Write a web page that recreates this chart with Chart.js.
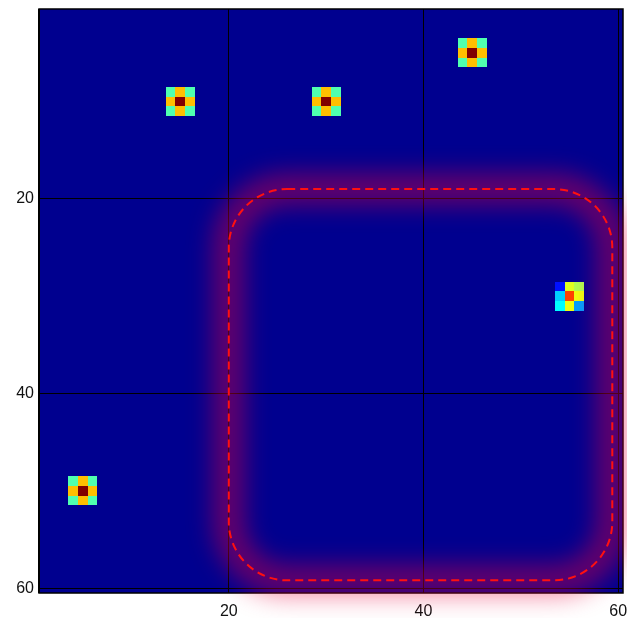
<!DOCTYPE html>
<html>
<head>
<meta charset="utf-8">
<script src="https://cdn.jsdelivr.net/npm/chart.js@4.4.1/dist/chart.umd.min.js"></script>
<style>
  body { margin: 0; background: #fff; }
  #wrap { width: 627px; height: 618px; }
</style>
</head>
<body>
<div id="wrap"><canvas id="heat" width="627" height="618"></canvas></div>
<script>
// image size (cells)
const nCols = 60;
const nRows = 60;

// tick labels on both axes
const xTicks = [20, 40, 60];
const yTicks = [20, 40, 60];

// centres (col, row) of the symmetric blobs and their 3x3 values
const blobCols = [15, 30, 45, 5];
const blobRows = [10, 10, 5, 50];
const blobKernel = [
  [0.45, 0.68, 0.45],
  [0.68, 1.00, 0.68],
  [0.45, 0.68, 0.45]
];

// the odd blob on the right
const oddCol = 55;
const oddRow = 30;
const oddKernel = [
  [0.12, 0.59, 0.54],
  [0.32, 0.81, 0.60],
  [0.365, 0.60, 0.27]
];

// dashed region outline (data units)
const regionX = [20, 59.4];
const regionY = [19, 59.2];
const regionRadius = 6;

// build the grid of values
const grid = [];
for (let r = 0; r < nRows; r++) grid.push(new Array(nCols).fill(0));
function stamp(col, row, k) {
  for (let dr = -1; dr <= 1; dr++) {
    for (let dc = -1; dc <= 1; dc++) {
      grid[row - 1 + dr][col - 1 + dc] = k[dr + 1][dc + 1];
    }
  }
}
blobCols.forEach((c, i) => stamp(c, blobRows[i], blobKernel));
stamp(oddCol, oddRow, oddKernel);

const cells = [];
for (let r = 0; r < nRows; r++) {
  for (let c = 0; c < nCols; c++) {
    cells.push({ x: c + 1, y: r + 1, v: grid[r][c] });
  }
}

// matlab style jet(64)
function jet(v) {
  const i = 1 + Math.round(Math.max(0, Math.min(1, v)) * 63);
  const cl = t => Math.max(0, Math.min(1, t));
  const r = cl(Math.min((i - 24) / 16, (72 - i) / 16));
  const g = cl(Math.min((i - 8) / 16, (56 - i) / 16));
  const b = cl(Math.min((i + 8) / 16, (40 - i) / 16));
  return `rgb(${Math.round(r * 255)},${Math.round(g * 255)},${Math.round(b * 255)})`;
}

// draws the cells of the dataset through the scales
const heatPlugin = {
  id: 'heat',
  beforeDatasetsDraw(chart) {
    const { ctx, scales: { x, y } } = chart;
    ctx.save();
    chart.data.datasets[0].data.forEach(p => {
      const x0 = Math.round(x.getPixelForValue(p.x - 0.5));
      const x1 = Math.round(x.getPixelForValue(p.x + 0.5));
      const y0 = Math.round(y.getPixelForValue(p.y - 0.5));
      const y1 = Math.round(y.getPixelForValue(p.y + 0.5));
      ctx.fillStyle = jet(p.v);
      ctx.fillRect(x0, Math.min(y0, y1), x1 - x0, Math.abs(y1 - y0));
    });
    ctx.restore();
  }
};

function roundRectPath(ctx, x0, y0, x1, y1, rad) {
  ctx.beginPath();
  ctx.moveTo(x0 + rad, y0);
  ctx.arcTo(x1, y0, x1, y1, rad);
  ctx.arcTo(x1, y1, x0, y1, rad);
  ctx.arcTo(x0, y1, x0, y0, rad);
  ctx.arcTo(x0, y0, x1, y0, rad);
  ctx.closePath();
}

// frame + glowing dashed outline
const overlayPlugin = {
  id: 'overlay',
  afterDraw(chart) {
    const { ctx, chartArea: a, scales: { x, y } } = chart;
    ctx.save();
    ctx.strokeStyle = '#000';
    ctx.lineWidth = 1.5;
    ctx.strokeRect(a.left, a.top, a.right - a.left, a.bottom - a.top);
    ctx.fillStyle = '#000';
    ctx.fillRect(a.left - 1, a.top, 2, a.bottom - a.top);

    const x0 = x.getPixelForValue(regionX[0]);
    const x1 = x.getPixelForValue(regionX[1]);
    const y0 = y.getPixelForValue(regionY[0]);
    const y1 = y.getPixelForValue(regionY[1]);
    const rad = regionRadius * (x.getPixelForValue(1) - x.getPixelForValue(0));

    ctx.filter = 'blur(12px)';
    ctx.strokeStyle = 'rgba(230,0,60,0.45)';
    ctx.lineWidth = 32;
    roundRectPath(ctx, x0, y0, x1, y1, rad);
    ctx.stroke();
    ctx.filter = 'none';

    ctx.strokeStyle = '#ff1010';
    ctx.lineWidth = 2;
    ctx.setLineDash([8, 5]);
    roundRectPath(ctx, x0, y0, x1, y1, rad);
    ctx.stroke();
    ctx.restore();
  }
};

const tickFont = { family: '"Liberation Sans", Arial, sans-serif', size: 16 };
const noPad = s => { s.paddingTop = 0; s.paddingBottom = 0; s.paddingLeft = 0; s.paddingRight = 0; };

new Chart(document.getElementById('heat').getContext('2d'), {
  type: 'scatter',
  data: {
    datasets: [{ data: cells, pointRadius: 0, pointHoverRadius: 0 }]
  },
  options: {
    responsive: false,
    animation: false,
    events: [],
    layout: { padding: { top: 9, right: 4, left: 0, bottom: 0 } },
    plugins: { legend: { display: false }, tooltip: { enabled: false } },
    scales: {
      x: {
        type: 'linear', min: 0.5, max: 60.5,
        afterBuildTicks: s => { s.ticks = xTicks.map(v => ({ value: v })); },
        afterFit: s => { s.height = 25; noPad(s); },
        ticks: { font: tickFont, color: '#111', padding: 9, maxRotation: 0 },
        grid: { color: '#000', lineWidth: 1, drawTicks: false, z: 1 },
        border: { display: false }
      },
      y: {
        type: 'linear', reverse: true, min: 0.5, max: 60.5,
        afterBuildTicks: s => { s.ticks = yTicks.map(v => ({ value: v })); },
        afterFit: s => { s.width = 39; noPad(s); },
        ticks: { font: tickFont, color: '#111', padding: 5 },
        grid: { color: '#000', lineWidth: 1, drawTicks: false, z: 1 },
        border: { display: false }
      }
    }
  },
  plugins: [heatPlugin, overlayPlugin]
});
</script>
</body>
</html>
